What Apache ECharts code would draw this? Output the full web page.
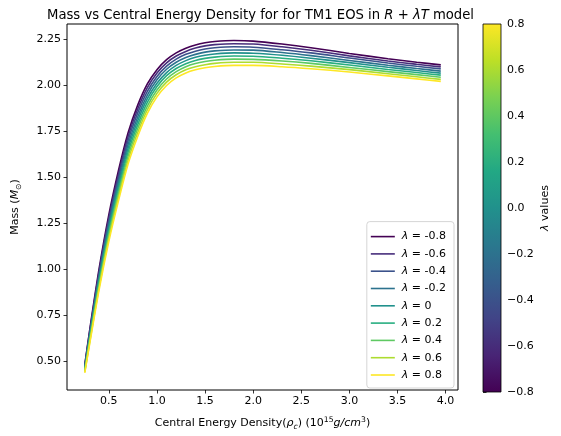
<!DOCTYPE html>
<html>
<head>
<meta charset="utf-8">
<script src="https://cdn.jsdelivr.net/npm/echarts@6/dist/echarts.min.js"></script>
<style>
  html, body { margin: 0; padding: 0; background: #fff; }
  #chart { width: 561px; height: 436px; }
</style>
</head>
<body>
<div id="chart"></div>
<script>
// Central energy density grid (10^15 g/cm^3)
const density = [0.25, 0.30, 0.40, 0.50, 0.60, 0.70, 0.80, 0.90, 1.00, 1.10, 1.20, 1.30,
                 1.40, 1.50, 1.60, 1.80, 2.00, 2.30, 2.60, 3.00, 3.40, 3.70, 3.95];

// Stellar mass (solar masses) for each coupling lambda
const massLamM08 = [0.480,0.665,1.005,1.295,1.535,1.740,1.890,2.005,2.083,2.137,2.174,2.199,2.217,2.229,2.236,2.241,2.238,2.222,2.202,2.171,2.142,2.123,2.109];
const massLamM06 = [0.474,0.656,0.991,1.277,1.514,1.719,1.869,1.985,2.065,2.120,2.157,2.182,2.200,2.212,2.219,2.224,2.222,2.207,2.188,2.158,2.130,2.112,2.098];
const massLamM04 = [0.469,0.646,0.976,1.259,1.494,1.698,1.848,1.965,2.046,2.102,2.140,2.166,2.183,2.195,2.202,2.207,2.205,2.191,2.174,2.146,2.119,2.101,2.087];
const massLamM02 = [0.463,0.637,0.962,1.241,1.473,1.676,1.826,1.945,2.028,2.085,2.123,2.149,2.166,2.178,2.185,2.190,2.189,2.176,2.159,2.133,2.107,2.089,2.075];
const massLam0   = [0.458,0.628,0.948,1.223,1.453,1.655,1.805,1.925,2.009,2.067,2.106,2.132,2.150,2.161,2.168,2.174,2.172,2.161,2.145,2.121,2.096,2.078,2.064];
const massLamP02 = [0.452,0.618,0.933,1.204,1.432,1.634,1.784,1.905,1.991,2.050,2.089,2.115,2.133,2.144,2.151,2.157,2.156,2.145,2.131,2.108,2.084,2.067,2.053];
const massLamP04 = [0.446,0.609,0.919,1.186,1.411,1.613,1.763,1.885,1.972,2.032,2.072,2.099,2.116,2.127,2.134,2.140,2.139,2.130,2.117,2.095,2.072,2.056,2.042];
const massLamP06 = [0.441,0.599,0.904,1.168,1.391,1.591,1.741,1.865,1.954,2.015,2.055,2.082,2.099,2.110,2.117,2.123,2.123,2.114,2.102,2.083,2.061,2.044,2.030];
const massLamP08 = [0.435,0.590,0.890,1.150,1.370,1.570,1.720,1.845,1.935,1.997,2.038,2.065,2.082,2.093,2.100,2.106,2.106,2.099,2.088,2.070,2.049,2.033,2.019];

const lambdaValues = [-0.8, -0.6, -0.4, -0.2, 0, 0.2, 0.4, 0.6, 0.8];
const massCurves = [massLamM08, massLamM06, massLamM04, massLamM02, massLam0,
                    massLamP02, massLamP04, massLamP06, massLamP08];
const curveColors = ['#440154', '#472d7b', '#3b528b', '#2c728e', '#21918c',
                     '#28ae80', '#5ec962', '#addc30', '#fde725'];

// Tick labels
const xTicks = [0.5, 1.0, 1.5, 2.0, 2.5, 3.0, 3.5, 4.0];
const yTicks = [0.50, 0.75, 1.00, 1.25, 1.50, 1.75, 2.00, 2.25];

// viridis colour ramp for the colour bar
const viridisStops = ['#440154', '#482475', '#414487', '#355f8d', '#2a788e', '#21918c',
                      '#22a884', '#44bf70', '#7ad151', '#bddf26', '#fde725'];

const FONT = 'DejaVu Sans';
const FS = 11;
const chart = echarts.init(document.getElementById('chart'), null, { renderer: 'canvas' });

const lineSeries = lambdaValues.map((lam, i) => ({
  name: 'λ = ' + (lam === 0 ? '0' : String(lam)),
  type: 'line',
  xAxisIndex: 0,
  yAxisIndex: 0,
  data: density.map((x, j) => [x, massCurves[i][j]]),
  smooth: 0.3,
  symbol: 'none',
  lineStyle: { width: 1.6, color: curveColors[i] },
  itemStyle: { color: curveColors[i] },
  silent: true,
  animation: false
}));

const colorbarSeries = {
  type: 'custom',
  xAxisIndex: 1,
  yAxisIndex: 1,
  data: [[0, -0.8, 1, 0.8]],
  silent: true,
  animation: false,
  renderItem: function (params, api) {
    const p0 = api.coord([api.value(0), api.value(1)]);
    const p1 = api.coord([api.value(2), api.value(3)]);
    const stops = viridisStops.map((c, k) => ({ offset: k / (viridisStops.length - 1), color: c }));
    return {
      type: 'rect',
      shape: { x: p0[0], y: p1[1], width: p1[0] - p0[0], height: p0[1] - p1[1] },
      style: {
        fill: new echarts.graphic.LinearGradient(0, 1, 0, 0, stops),
        stroke: '#000',
        lineWidth: 0.8
      }
    };
  }
};

const tickLabelStyle = { color: '#000', fontFamily: FONT, fontSize: FS };
const italic = { fontFamily: FONT, fontSize: FS, fontStyle: 'italic', color: '#000' };

const option = {
  backgroundColor: '#fff',
  animation: false,
  textStyle: { fontFamily: FONT },
  title: {
    text: 'Mass vs Central Energy Density for for TM1 EOS in {i|R} + {i|λT} model',
    left: 42,
    top: 4,
    textStyle: {
      fontFamily: FONT, fontSize: 13.2, fontWeight: 'normal', color: '#000',
      rich: { i: { fontFamily: FONT, fontSize: 13.2, fontStyle: 'italic', color: '#000' } }
    }
  },
  grid: [
    { left: 63, top: 24, width: 395, height: 368, show: true, borderColor: '#000', borderWidth: 1, backgroundColor: 'transparent' },
    { left: 483, top: 24, width: 18, height: 368, show: false }
  ],
  xAxis: [
    {
      type: 'value', gridIndex: 0, min: 0.065, max: 4.129,
      axisLine: { show: false },
      splitLine: { show: false },
      axisTick: { show: true, inside: false, length: 3.5, customValues: xTicks, lineStyle: { color: '#000', width: 0.8 } },
      axisLabel: { show: true, customValues: xTicks, margin: 6, formatter: v => v.toFixed(1), ...tickLabelStyle },
      name: '{n|Central Energy Density(}{i|ρ}{sub|c}{n|) (10}{sup|15}{i|g/cm}{sup|3}{n|)}',
      nameLocation: 'middle',
      nameGap: 26,
      nameTextStyle: {
        color: '#000', fontFamily: FONT, fontSize: FS, lineHeight: 15,
        rich: {
          n: { fontFamily: FONT, fontSize: FS, color: '#000' },
          i: italic,
          sub: { fontFamily: FONT, fontSize: 7.7, fontStyle: 'italic', color: '#000', verticalAlign: 'bottom', lineHeight: 15 },
          sup: { fontFamily: FONT, fontSize: 7.7, color: '#000', verticalAlign: 'top', lineHeight: 15 }
        }
      }
    },
    {
      type: 'value', gridIndex: 1, min: 0, max: 1, show: false
    }
  ],
  yAxis: [
    {
      type: 'value', gridIndex: 0, min: 0.342, max: 2.331,
      axisLine: { show: false },
      splitLine: { show: false },
      axisTick: { show: true, inside: false, length: 3.5, customValues: yTicks, lineStyle: { color: '#000', width: 0.8 } },
      axisLabel: { show: true, customValues: yTicks, margin: 6, formatter: v => v.toFixed(2), ...tickLabelStyle },
      name: '{n|Mass (}{i|M}{sub|⊙}{n|)}',
      nameLocation: 'middle',
      nameRotate: 90,
      nameGap: 44,
      nameTextStyle: {
        color: '#000', fontFamily: FONT, fontSize: FS, lineHeight: 15,
        rich: {
          n: { fontFamily: FONT, fontSize: FS, color: '#000' },
          i: italic,
          sub: { fontFamily: FONT, fontSize: 7.7, color: '#000', verticalAlign: 'bottom', lineHeight: 15 }
        }
      }
    },
    {
      type: 'value', gridIndex: 1, min: -0.8, max: 0.8, interval: 0.2, position: 'right',
      axisLine: { show: false },
      splitLine: { show: false },
      axisTick: { show: true, inside: false, length: 3.5, lineStyle: { color: '#000', width: 0.8 } },
      axisLabel: {
        show: true, margin: 6,
        formatter: v => { const r = Math.round(v * 10) / 10; const s = Math.abs(r).toFixed(1); return r < 0 ? '\u2212' + s : s; },
        ...tickLabelStyle
      },
      name: '{i|λ} values',
      nameLocation: 'middle',
      nameRotate: 90,
      nameGap: 39,
      nameTextStyle: {
        color: '#000', fontFamily: FONT, fontSize: FS,
        rich: { i: italic }
      }
    }
  ],
  legend: {
    orient: 'vertical',
    right: 107,
    bottom: 48,
    data: lineSeries.map(s => ({ name: s.name, icon: 'rect' })),
    itemWidth: 24,
    itemHeight: 1.6,
    itemGap: 4.3,
    padding: [8.5, 8, 6.5, 4],
    backgroundColor: 'rgba(255,255,255,0.8)',
    borderColor: '#d5d5d5',
    borderWidth: 1,
    borderRadius: 3,
    selectedMode: false,
    formatter: name => name.replace('λ', '{i|λ}'),
    textStyle: {
      color: '#000', fontFamily: FONT, fontSize: FS, lineHeight: 13, padding: [0, 0, 0, 2],
      rich: { i: Object.assign({ lineHeight: 13 }, italic) }
    }
  },
  series: [...lineSeries, colorbarSeries]
};

chart.setOption(option);
</script>
</body>
</html>
